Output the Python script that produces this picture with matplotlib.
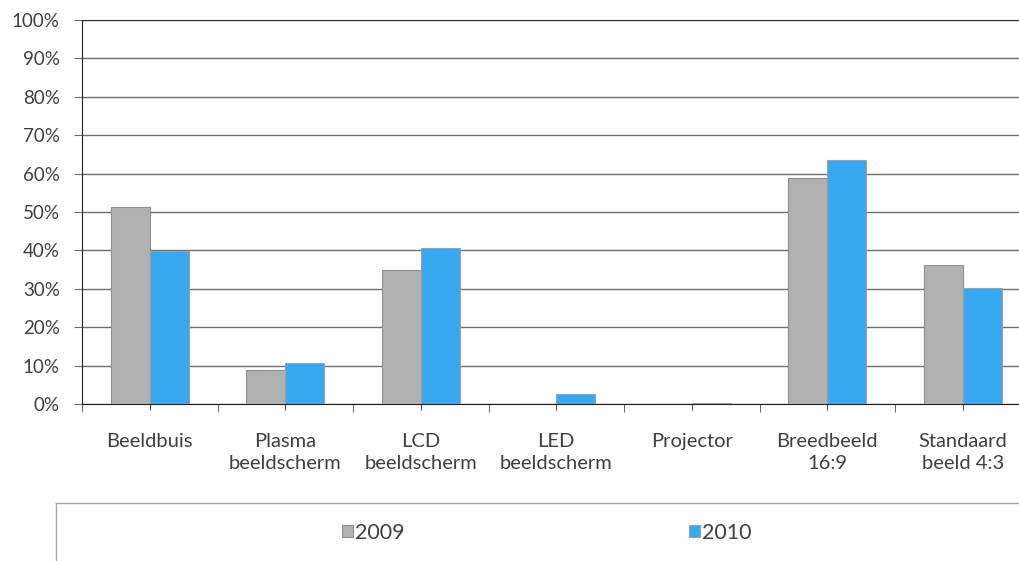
import numpy as np
import matplotlib
matplotlib.use('Agg')
import matplotlib.pyplot as plt
from matplotlib.lines import Line2D
from matplotlib.ticker import FixedLocator

categories = ["Beeldbuis", "Plasma\nbeeldscherm", "LCD\nbeeldscherm", "LED\nbeeldscherm",
              "Projector", "Breedbeeld\n16:9", "Standaard\nbeeld 4:3"]
series_names = ["2009", "2010"]
values_2009 = [51.3, 8.9, 34.8, 0.0, 0.0, 58.8, 36.1]
values_2010 = [39.8, 10.7, 40.6, 2.7, 0.2, 63.5, 30.1]
y_ticks = [0, 10, 20, 30, 40, 50, 60, 70, 80, 90, 100]

plt.rcParams['font.family'] = ['Lato', 'DejaVu Sans']
text_col = '#404040'

fig = plt.figure(figsize=(10.19, 5.61), dpi=100)
# de grafiek loopt rechts net buiten het beeld door
ax = fig.add_axes([82/1019, 1-404/561, 948.5/1019, 384/561])

x = np.arange(len(categories))
bw = 0.288
ax.bar(x - bw/2, values_2009, bw, color='#b1b1b1', edgecolor='#8f8f8f', linewidth=0.8, label=series_names[0], zorder=3)
ax.bar(x + bw/2, values_2010, bw, color='#38a8f0', edgecolor='#a0a0a0', linewidth=0.8, label=series_names[1], zorder=3)

ax.set_xlim(-0.5, len(categories) - 0.5)
ax.set_ylim(0, 100)
ax.set_yticks(y_ticks)
ax.set_yticklabels([f"{t}%" for t in y_ticks], fontsize=13.5, color=text_col)
ax.yaxis.grid(True, color='#6e6e6e', lw=1, zorder=0)
ax.tick_params(axis='y', length=6, color='#707070', pad=10)

ax.set_xticks(x)
ax.set_xticklabels(categories, fontsize=14.5, color=text_col, linespacing=1.35)
ax.xaxis.set_minor_locator(FixedLocator(np.arange(len(categories) + 1) - 0.5))
ax.tick_params(axis='x', which='major', length=4, color='#505050', pad=17)
ax.tick_params(axis='x', which='minor', length=6, color='#505050')

for s in ['right']:
    ax.spines[s].set_visible(False)
ax.spines['top'].set_color('#303030')
ax.spines['left'].set_color('#202020')
ax.spines['bottom'].set_color('#202020')

# legenda onderaan met half kader
fig.legend(loc='center', bbox_to_anchor=(547/1019, 1-533/561), ncol=2, frameon=False,
           fontsize=15.5, handlelength=0.5, handleheight=0.5, handletextpad=0.12,
           columnspacing=13.2, labelcolor=text_col)
fig.add_artist(Line2D([56/1019, 1.0], [1-503/561, 1-503/561], color='#a8a8a8', lw=1, transform=fig.transFigure))
fig.add_artist(Line2D([56/1019, 56/1019], [0, 1-503/561], color='#a8a8a8', lw=1, transform=fig.transFigure))

plt.savefig('out.png', dpi=100)
